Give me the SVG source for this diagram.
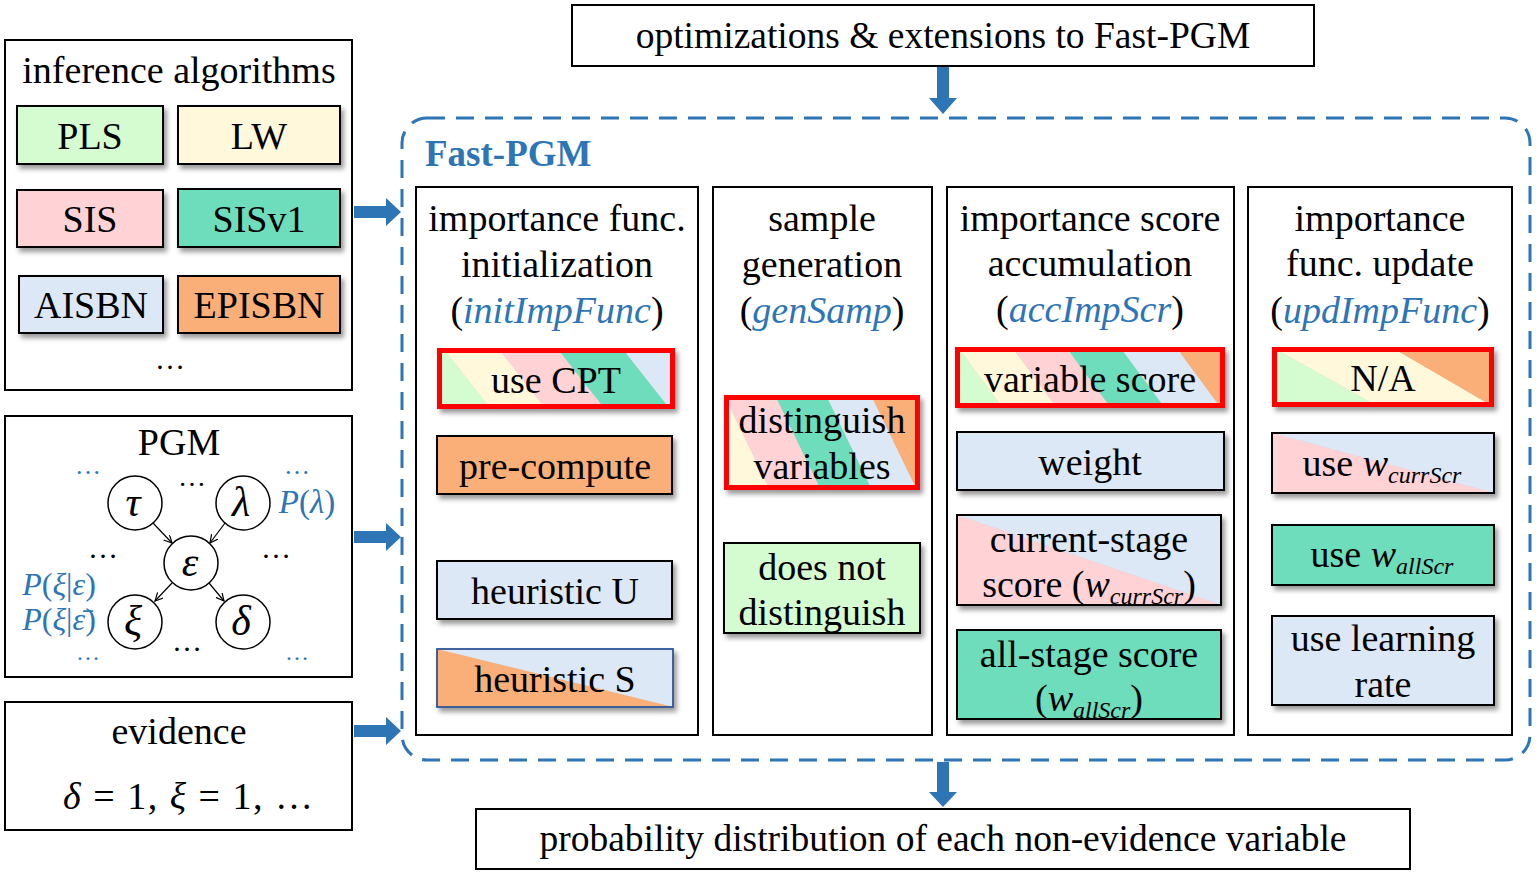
<svg xmlns="http://www.w3.org/2000/svg" width="1536" height="874" viewBox="0 0 1536 874">
<defs>
<style>
.t{font-family:"Liberation Serif","Times New Roman",serif;font-size:38px;fill:#000;text-anchor:middle}
.it{font-style:italic}
.bl{fill:#2E75B6}
.sub{font-size:24px;font-style:italic}
.frame{fill:#fff;stroke:#000;stroke-width:2}
.box{stroke:#000;stroke-width:2}
.red{fill:none;stroke:#FF0000;stroke-width:5}
.G{fill:#D5FBD0}.Y{fill:#FFF8DB}.P{fill:#FFD3D6}.T{fill:#6EDDBB}.B{fill:#DCE8F6}.O{fill:#FBAF78}
.barrow{fill:#2E75B6}
.edge{stroke:#000;stroke-width:1.2;fill:none;marker-end:url(#ah)}
.node{fill:#fff;stroke:#000;stroke-width:1.5}
</style>
<filter id="sh" x="-10%" y="-10%" width="130%" height="140%">
<feDropShadow dx="3" dy="4" stdDeviation="2.5" flood-color="#000" flood-opacity="0.4"/>
</filter>
<marker id="ah" markerWidth="10" markerHeight="10" refX="8" refY="4" orient="auto" markerUnits="userSpaceOnUse">
<path d="M0,0 L8,4 L0,8" fill="none" stroke="#000" stroke-width="1.2"/>
</marker>
</defs>
<rect width="1536" height="874" fill="#fff"/>

<!-- connectors -->
<g id="connectors">
<path class="barrow" d="M937,66 V98 H929 L943,114 L957,98 H949 V66 Z"/>
<path class="barrow" d="M937,762 V792 H929 L943,807 L957,792 H949 V762 Z"/>
<path class="barrow" d="M354,206 H386 V198 L401,212 L386,226 V218 H354 Z"/>
<path class="barrow" d="M354,531 H386 V523 L401,537 L386,551 V543 H354 Z"/>
<path class="barrow" d="M354,725 H386 V717 L401,731 L386,745 V737 H354 Z"/>
<path fill="#7F7F7F" d="M551,507 V538 H542 L557,553 L572,538 H563 V507 Z"/>
</g>

<!-- top box -->
<g id="optimizations">
<rect x="572" y="5" width="742" height="61" class="frame"/>
<text x="943" y="48" class="t" style="font-size:37.5px">optimizations &amp; extensions to Fast-PGM</text>
</g>

<!-- output -->
<g id="output">
<rect x="476" y="809" width="934" height="60" class="frame"/>
<text x="943" y="851" class="t" style="font-size:37.5px">probability distribution of each non-evidence variable</text>
</g>

<!-- inference algorithms -->
<g id="inference-algorithms">
<rect x="5" y="40" width="347" height="350" class="frame"/>
<text x="179" y="83" class="t">inference algorithms</text>
<g id="PLS"><rect x="17" y="106" width="146" height="58" class="box G" filter="url(#sh)"/><text x="90" y="149" class="t">PLS</text></g>
<g id="LW"><rect x="178" y="106" width="162" height="58" class="box Y" filter="url(#sh)"/><text x="259" y="149" class="t">LW</text></g>
<g id="SIS"><rect x="17" y="190" width="146" height="57" class="box P" filter="url(#sh)"/><text x="90" y="232" class="t">SIS</text></g>
<g id="SISv1"><rect x="178" y="189" width="162" height="58" class="box T" filter="url(#sh)"/><text x="259" y="232" class="t">SISv1</text></g>
<g id="AISBN"><rect x="19" y="276" width="144" height="57" class="box B" filter="url(#sh)"/><text x="91" y="318" class="t">AISBN</text></g>
<g id="EPISBN"><rect x="178" y="276" width="162" height="57" class="box O" filter="url(#sh)"/><text x="259" y="318" class="t">EPISBN</text></g>
<text x="170" y="369" class="t" style="font-size:30px">…</text>
</g>

<!-- PGM -->
<g id="PGM">
<rect x="5" y="416" width="347" height="261" class="frame"/>
<text x="179" y="455" class="t">PGM</text>
<path class="edge" d="M153,523 L172,543"/>
<path class="edge" d="M225,523 L210,543"/>
<path class="edge" d="M172,583 L155,601"/>
<path class="edge" d="M209,583 L224,601"/>
<circle cx="135" cy="503" r="27" class="node"/>
<circle cx="243" cy="503" r="27" class="node"/>
<circle cx="191" cy="563" r="27" class="node"/>
<circle cx="135" cy="622" r="27" class="node"/>
<circle cx="243" cy="622" r="27" class="node"/>
<text x="133" y="516" class="t it" style="font-size:42px">τ</text>
<text x="241" y="516" class="t it" style="font-size:42px">λ</text>
<text x="190" y="576" class="t it" style="font-size:42px">ε</text>
<text x="133" y="635" class="t it" style="font-size:42px">ξ</text>
<text x="241" y="635" class="t it" style="font-size:42px">δ</text>
<text x="192" y="486" class="t" style="font-size:28px">…</text>
<text x="103" y="558" class="t" style="font-size:30px">…</text>
<text x="276" y="558" class="t" style="font-size:30px">…</text>
<text x="187" y="651" class="t" style="font-size:30px">…</text>
<text x="88" y="474" class="t bl" style="font-size:26px">…</text>
<text x="297" y="474" class="t bl" style="font-size:26px">…</text>
<text x="88" y="660" class="t bl" style="font-size:24px">…</text>
<text x="297" y="660" class="t bl" style="font-size:24px">…</text>
<text x="307" y="513" class="t bl" style="font-size:33px"><tspan class="it">P</tspan>(<tspan class="it">λ</tspan>)</text>
<text x="59" y="595" class="t bl" style="font-size:32px"><tspan class="it">P</tspan>(<tspan class="it">ξ</tspan>|<tspan class="it">ε</tspan>)</text>
<text x="59" y="630" class="t bl" style="font-size:32px"><tspan class="it">P</tspan>(<tspan class="it">ξ</tspan>|<tspan class="it">ε̄</tspan>)</text>
</g>

<!-- evidence -->
<g id="evidence">
<rect x="5" y="702" width="347" height="128" class="frame"/>
<text x="179" y="744" class="t">evidence</text>
<text x="188" y="809" class="t" textLength="250" lengthAdjust="spacing"><tspan class="it">δ</tspan> = 1, <tspan class="it">ξ</tspan> = 1, …</text>
</g>

<!-- Fast-PGM container -->
<g id="fast-pgm">
<rect x="402" y="118" width="1128" height="642" rx="25" ry="25" fill="none" stroke="#2E75B6" stroke-width="3" stroke-dasharray="18 11"/>
<text x="425" y="166" font-family="'Liberation Serif','Times New Roman',serif" font-size="37" font-weight="bold" fill="#2E75B6">Fast-PGM</text>
</g>

<!-- column 1 -->
<g id="col-init">
<rect x="416" y="187" width="282" height="548" class="frame"/>
<text x="557" y="231" class="t">importance func.</text>
<text x="557" y="277" class="t">initialization</text>
<text x="557" y="323" class="t">(<tspan class="it bl">initImpFunc</tspan>)</text>
</g>
<g id="use-CPT">
<g filter="url(#sh)">
<polygon class="G" points="437,348 443,348 491,409 437,409"/>
<polygon class="Y" points="443,348 498,348 546,409 491,409"/>
<polygon class="P" points="498,348 557,348 605,409 546,409"/>
<polygon class="T" points="557,348 622,348 670,409 605,409"/>
<polygon class="B" points="622,348 675,348 675,409 670,409"/>
<rect x="439.5" y="350.5" width="233" height="56" class="red"/>
</g>
<text x="556" y="393" class="t">use CPT</text>
</g>
<g id="pre-compute"><rect x="437" y="436" width="235" height="58" class="box O" filter="url(#sh)"/><text x="555" y="479" class="t">pre-compute</text></g>
<g id="heuristic-U"><rect x="437" y="561" width="235" height="58" class="box B" filter="url(#sh)"/><text x="555" y="604" class="t">heuristic U</text></g>
<g id="heuristic-S">
<g filter="url(#sh)">
<polygon class="B" points="437,649 673,649 673,707"/>
<polygon class="O" points="437,649 673,707 437,707"/>
<rect x="437" y="649" width="236" height="58" fill="none" stroke="#2F5597" stroke-width="1.8"/>
</g>
<text x="555" y="692" class="t">heuristic S</text>
</g>

<!-- column 2 -->
<g id="col-gen">
<rect x="713" y="187" width="219" height="548" class="frame"/>
<text x="822" y="231" class="t">sample</text>
<text x="822" y="277" class="t">generation</text>
<text x="822" y="323" class="t">(<tspan class="it bl">genSamp</tspan>)</text>
</g>
<g id="distinguish-variables">
<g filter="url(#sh)">
<polygon class="Y" points="724,395 770,490 724,490"/>
<polygon class="P" points="724,395 775,395 821,490 770,490"/>
<polygon class="T" points="775,395 826,395 872,490 821,490"/>
<polygon class="B" points="826,395 871,395 917,490 872,490"/>
<polygon class="O" points="871,395 920,395 920,490 917,490"/>
<rect x="726.5" y="397.5" width="191" height="90" class="red"/>
</g>
<text x="822" y="433" class="t">distinguish</text>
<text x="822" y="479" class="t">variables</text>
</g>
<g id="does-not-distinguish">
<rect x="724" y="543" width="196" height="90" class="box G" filter="url(#sh)"/>
<text x="822" y="580" class="t">does not</text>
<text x="822" y="625" class="t">distinguish</text>
</g>

<!-- column 3 -->
<g id="col-acc">
<rect x="947" y="187" width="287" height="548" class="frame"/>
<text x="1090" y="231" class="t">importance score</text>
<text x="1090" y="276" class="t">accumulation</text>
<text x="1090" y="322" class="t">(<tspan class="it bl">accImpScr</tspan>)</text>
</g>
<g id="variable-score">
<g filter="url(#sh)">
<polygon class="G" points="955,347 958,347 1003,408 955,408"/>
<polygon class="Y" points="958,347 1012,347 1057,408 1003,408"/>
<polygon class="P" points="1012,347 1066,347 1111,408 1057,408"/>
<polygon class="T" points="1066,347 1120,347 1165,408 1111,408"/>
<polygon class="B" points="1120,347 1176,347 1221,408 1165,408"/>
<polygon class="O" points="1176,347 1225,347 1225,408 1221,408"/>
<rect x="957.5" y="349.5" width="265" height="56" class="red"/>
</g>
<text x="1090" y="392" class="t">variable score</text>
</g>
<g id="weight"><rect x="957" y="432" width="267" height="58" class="box B" filter="url(#sh)"/><text x="1090" y="475" class="t">weight</text></g>
<g id="current-stage-score">
<g filter="url(#sh)">
<polygon class="B" points="957,515 1221,515 1221,605"/>
<polygon class="P" points="957,515 1221,605 957,605"/>
<rect x="957" y="515" width="264" height="90" fill="none" stroke="#000" stroke-width="2"/>
</g>
<text x="1089" y="552" class="t">current-stage</text>
<text x="1089" y="597" class="t">score (<tspan class="it">w</tspan><tspan class="sub" dy="7">currScr</tspan><tspan dy="-7">)</tspan></text>
</g>
<g id="all-stage-score">
<rect x="957" y="630" width="264" height="89" class="box T" filter="url(#sh)"/>
<text x="1089" y="667" class="t">all-stage score</text>
<text x="1089" y="711" class="t">(<tspan class="it">w</tspan><tspan class="sub" dy="7">allScr</tspan><tspan dy="-7">)</tspan></text>
</g>

<!-- column 4 -->
<g id="col-upd">
<rect x="1248" y="187" width="264" height="548" class="frame"/>
<text x="1380" y="231" class="t">importance</text>
<text x="1380" y="276" class="t">func. update</text>
<text x="1380" y="323" class="t">(<tspan class="it bl">updImpFunc</tspan>)</text>
</g>
<g id="NA">
<g filter="url(#sh)">
<polygon class="G" points="1272,347 1379,407 1272,407"/>
<polygon class="Y" points="1272,347 1391,347 1494,407 1379,407"/>
<polygon class="O" points="1391,347 1494,347 1494,407"/>
<rect x="1274.5" y="349.5" width="217" height="55" class="red"/>
</g>
<text x="1383" y="391" class="t">N/A</text>
</g>
<g id="use-wcurr">
<g filter="url(#sh)">
<polygon class="B" points="1272,433 1494,433 1494,493"/>
<polygon class="P" points="1272,433 1494,493 1272,493"/>
<rect x="1272" y="433" width="222" height="60" fill="none" stroke="#000" stroke-width="2"/>
</g>
<text x="1382" y="476" class="t">use <tspan class="it">w</tspan><tspan class="sub" dy="7">currScr</tspan></text>
</g>
<g id="use-wall">
<rect x="1272" y="525" width="222" height="60" class="box T" filter="url(#sh)"/>
<text x="1382" y="567" class="t">use <tspan class="it">w</tspan><tspan class="sub" dy="7">allScr</tspan></text>
</g>
<g id="use-learning-rate">
<rect x="1272" y="616" width="222" height="89" class="box B" filter="url(#sh)"/>
<text x="1383" y="651" class="t">use learning</text>
<text x="1383" y="697" class="t">rate</text>
</g>
</svg>
